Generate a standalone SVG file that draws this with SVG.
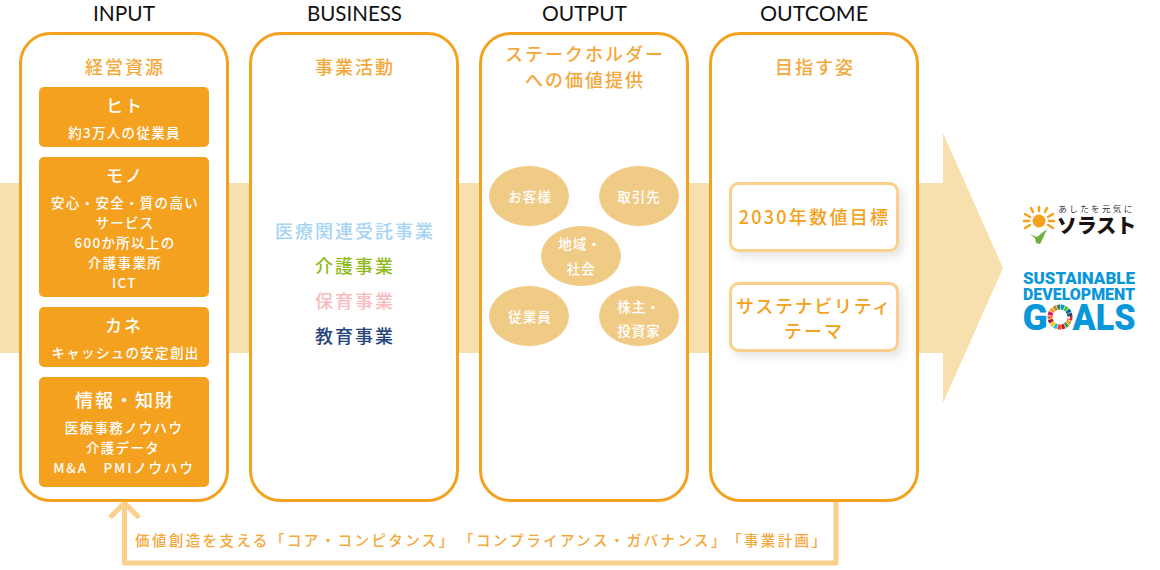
<svg xmlns="http://www.w3.org/2000/svg" width="1160" height="570" viewBox="0 0 1160 570">
<defs>
<style>
text{font-family:"Noto Sans CJK JP","Noto Sans",sans-serif;text-anchor:middle;font-weight:500;text-spacing-trim:space-all}
.hd{font-family:"Lato","Liberation Sans",sans-serif;font-size:20.500px;fill:#111;font-weight:400}
.panel{fill:#fff;stroke:#f4a120;stroke-width:3}
.ttl{font-size:18px;fill:#f4a83a;letter-spacing:2px}
.box{fill:#f4a120}
.bt{font-size:17px;fill:#fff;letter-spacing:2px}
.bs{font-size:13.500px;fill:#fff;letter-spacing:1.300px}
.ell{fill:#f0cb85}
.et{font-size:13.500px;fill:#fff;letter-spacing:1px}
.biz{font-size:18px;letter-spacing:2px}
.goal{fill:#fff;stroke:#fad08c;stroke-width:3;filter:url(#sh)}
.gt{font-size:18px;fill:#f4a120;letter-spacing:2px}
.conn{fill:none;stroke:#fad08c;stroke-width:5;stroke-linejoin:round;stroke-linecap:round}
.sdg{font-family:"Roboto","Liberation Sans",sans-serif;font-weight:900;fill:#0a97d9}
.fnd{font-size:14.500px;fill:#f4a83a;letter-spacing:2.400px;text-anchor:start}
.wh{fill:none;stroke-width:5;stroke-dasharray:.85 16.150}
</style>
<filter id="sh" x="-20%" y="-30%" width="140%" height="170%"><feDropShadow dx="4" dy="5" stdDeviation="4" flood-color="#000" flood-opacity="0.1"/></filter>
</defs>
<polygon id="flow" points="0,183 943,183 943,133 1003,268 943,403 943,353 0,353" fill="#f7e0ae"/>
<g id="connectors">
<path class="conn" d="M836,502V563H124.500V505"/>
<path class="conn" d="M111.500,516L124.500,503L137.500,516"/>
</g>
<g id="input">
<text class="hd" x="124" y="20.500" textLength="62" lengthAdjust="spacingAndGlyphs">INPUT</text>
<rect class="panel" x="20.500" y="33.500" width="207" height="467" rx="30"/>
<text class="ttl" x="125" y="74">経営資源</text>
<g id="hito"><rect class="box" x="39" y="87" width="170" height="60" rx="5"/>
<text class="bt" x="125" y="112">ヒト</text><text class="bs" x="124.500" y="138">約3万人の従業員</text></g>
<g id="mono"><rect class="box" x="39" y="157" width="170" height="140" rx="5"/>
<text class="bt" x="125" y="182">モノ</text>
<text class="bs" x="125" y="208">安心・安全・質の高い</text>
<text class="bs" x="125" y="228">サービス</text>
<text class="bs" x="125" y="248">600か所以上の</text>
<text class="bs" x="125" y="268">介護事業所</text>
<text class="bs" x="124.500" y="288" font-size="15">ICT</text></g>
<g id="kane"><rect class="box" x="39" y="307" width="170" height="60" rx="5"/>
<text class="bt" x="124" y="332">カネ</text><text class="bs" x="125.500" y="358">キャッシュの安定創出</text></g>
<g id="joho"><rect class="box" x="39" y="377" width="170" height="110" rx="5"/>
<text class="bt" x="125" y="407" style="font-size:18px">情報・知財</text>
<text class="bs" x="124" y="433">医療事務ノウハウ</text>
<text class="bs" x="123" y="453">介護データ</text>
<text class="bs" x="124" y="473" style="letter-spacing:1.900px">M&amp;A　PMIノウハウ</text></g>
</g>
<g id="business">
<text class="hd" x="354.500" y="20.500" textLength="95" lengthAdjust="spacingAndGlyphs">BUSINESS</text>
<rect class="panel" x="250.500" y="33.500" width="207" height="467" rx="30"/>
<text class="ttl" x="355" y="74">事業活動</text>
<text class="biz" x="355" y="238" fill="#a6d4f2">医療関連受託事業</text>
<text class="biz" x="355" y="273" fill="#8fba1e">介護事業</text>
<text class="biz" x="355" y="308" fill="#f6bcc0">保育事業</text>
<text class="biz" x="355" y="343" fill="#23457c">教育事業</text>
</g>
<g id="output">
<text class="hd" x="584.500" y="20.500" textLength="85" lengthAdjust="spacingAndGlyphs">OUTPUT</text>
<rect class="panel" x="480.500" y="33.500" width="207" height="467" rx="30"/>
<text class="ttl" x="585" y="61">ステークホルダー</text>
<text class="ttl" x="585" y="86.500">への価値提供</text>
<g id="okyaku"><ellipse class="ell" cx="529" cy="196" rx="40" ry="30"/><text class="et" x="530" y="202">お客様</text></g>
<g id="torihiki"><ellipse class="ell" cx="639" cy="196" rx="40" ry="30"/><text class="et" x="639" y="202">取引先</text></g>
<g id="chiiki"><ellipse class="ell" cx="581" cy="256" rx="40" ry="30"/><text class="et" x="580" y="249">地域・</text><text class="et" x="581" y="274">社会</text></g>
<g id="jugyoin"><ellipse class="ell" cx="529" cy="316" rx="40" ry="30"/><text class="et" x="530" y="322">従業員</text></g>
<g id="kabunushi"><ellipse class="ell" cx="639" cy="316" rx="40" ry="30"/><text class="et" x="639" y="312">株主・</text><text class="et" x="639" y="336">投資家</text></g>
</g>
<g id="outcome">
<text class="hd" x="814" y="20.500" textLength="108" lengthAdjust="spacingAndGlyphs">OUTCOME</text>
<rect class="panel" x="710.500" y="33.500" width="207" height="467" rx="30"/>
<text class="ttl" x="815" y="74">目指す姿</text>
<g id="goal2030"><rect class="goal" x="730.500" y="183.500" width="167" height="67" rx="8"/><text class="gt" x="814.500" y="224" style="letter-spacing:2.300px">2030年数値目標</text></g>
<g id="theme"><rect class="goal" x="730.500" y="283.500" width="167" height="67" rx="8"/><text class="gt" x="814" y="313" style="letter-spacing:1.700px">サステナビリティ</text><text class="gt" x="814" y="338">テーマ</text></g>
</g>
<text id="foundation" y="546"><tspan class="fnd" x="135">価値創造を支える</tspan><tspan class="fnd" x="270">「コア・コンピタンス」</tspan><tspan class="fnd" x="459">「コンプライアンス・ガバナンス」</tspan><tspan class="fnd" x="727">「事業計画」</tspan></text>
<g id="solasto">
<g stroke="#f4a120" stroke-width="2.500" stroke-linecap="round">
<path d="M1039,207V211M1031,208L1033,212M1047,208L1045,212M1025,214L1030,217M1053,214L1048,217M1024,221H1029M1054,221H1049M1025,228L1030,225M1053,228L1048,225"/>
</g>
<circle cx="1039" cy="221" r="6.500" fill="#f4a120"/>
<path d="M1030,234L1037,237L1047,229L1043,238L1040,244L1036,243L1035,238Z" fill="#6ab23a"/>
<text x="1096.500" y="212" font-size="8.500" fill="#333" letter-spacing="2.400" style="font-weight:400">あしたを元気に</text>
<text x="1096.500" y="233" font-size="20" fill="#1a1311" style="font-weight:900">ソラスト</text>
</g>
<g id="sdgs">
<text class="sdg" x="1079" y="284" font-size="16" textLength="112" lengthAdjust="spacingAndGlyphs">SUSTAINABLE</text>
<text class="sdg" x="1079" y="300" font-size="16" textLength="112" lengthAdjust="spacingAndGlyphs">DEVELOPMENT</text>
<text class="sdg" x="1035" y="330" font-size="37">G</text>
<g id="wheel" class="wh">
<circle cx="1060" cy="317" r="10" pathLength="17" stroke="#e5243b" style="stroke-dashoffset:0"/>
<circle cx="1060" cy="317" r="10" pathLength="17" stroke="#dda63a" style="stroke-dashoffset:-1"/>
<circle cx="1060" cy="317" r="10" pathLength="17" stroke="#4c9f38" style="stroke-dashoffset:-2"/>
<circle cx="1060" cy="317" r="10" pathLength="17" stroke="#c5192d" style="stroke-dashoffset:-3"/>
<circle cx="1060" cy="317" r="10" pathLength="17" stroke="#ff3a21" style="stroke-dashoffset:-4"/>
<circle cx="1060" cy="317" r="10" pathLength="17" stroke="#26bde2" style="stroke-dashoffset:-5"/>
<circle cx="1060" cy="317" r="10" pathLength="17" stroke="#fcc30b" style="stroke-dashoffset:-6"/>
<circle cx="1060" cy="317" r="10" pathLength="17" stroke="#a21942" style="stroke-dashoffset:-7"/>
<circle cx="1060" cy="317" r="10" pathLength="17" stroke="#fd6925" style="stroke-dashoffset:-8"/>
<circle cx="1060" cy="317" r="10" pathLength="17" stroke="#dd1367" style="stroke-dashoffset:-9"/>
<circle cx="1060" cy="317" r="10" pathLength="17" stroke="#fd9d24" style="stroke-dashoffset:-10"/>
<circle cx="1060" cy="317" r="10" pathLength="17" stroke="#bf8b2e" style="stroke-dashoffset:-11"/>
<circle cx="1060" cy="317" r="10" pathLength="17" stroke="#3f7e44" style="stroke-dashoffset:-12"/>
<circle cx="1060" cy="317" r="10" pathLength="17" stroke="#0a97d9" style="stroke-dashoffset:-13"/>
<circle cx="1060" cy="317" r="10" pathLength="17" stroke="#56c02b" style="stroke-dashoffset:-14"/>
<circle cx="1060" cy="317" r="10" pathLength="17" stroke="#00689d" style="stroke-dashoffset:-15"/>
<circle cx="1060" cy="317" r="10" pathLength="17" stroke="#19486a" style="stroke-dashoffset:-16"/>
</g>
<text class="sdg" x="1104" y="330" font-size="37" textLength="63" lengthAdjust="spacingAndGlyphs">ALS</text>
</g>
</svg>
